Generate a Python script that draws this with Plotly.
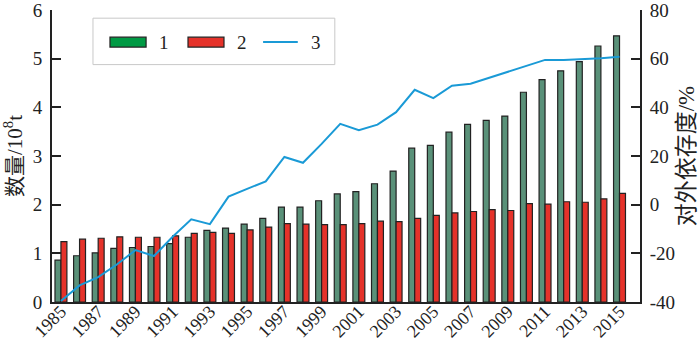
import plotly.graph_objects as go

years = list(range(1985, 2016))

# 1: first series (10^8 t)
series1 = [0.86, 0.95, 1.01, 1.10, 1.12, 1.14, 1.20, 1.33, 1.47, 1.52,
           1.60, 1.72, 1.95, 1.95, 2.08, 2.22, 2.27, 2.43, 2.69, 3.16,
           3.22, 3.49, 3.65, 3.73, 3.82, 4.31, 4.57, 4.75, 4.94, 5.26, 5.47]

# 2: second series (10^8 t)
series2 = [1.24, 1.29, 1.31, 1.34, 1.33, 1.33, 1.36, 1.41, 1.43, 1.41,
           1.48, 1.54, 1.61, 1.60, 1.59, 1.59, 1.61, 1.66, 1.65, 1.72,
           1.78, 1.83, 1.86, 1.90, 1.88, 2.02, 2.01, 2.06, 2.05, 2.12, 2.23]

# 3: external dependence (%)
series3 = [-39.6, -33.2, -29.8, -24.6, -18.7, -21.1, -13.2, -6.0, -8.0, 3.3,
           6.5, 9.6, 19.6, 17.2, 25.0, 33.2, 30.6, 32.9, 38.0, 47.2,
           43.8, 48.9, 49.7, 52.2, 54.8, 57.3, 59.5, 59.5, 59.7, 60.2, 60.8]

left_ticks = [0, 1, 2, 3, 4, 5, 6]
right_ticks = [-40, -20, 0, 20, 40, 60, 80]
right_tick_text = ["-40", "-20", "0", "20", "40", "60", "80"]

GREEN = "#5a9179"
RED = "#e5322a"
BLUE = "#1a9ad6"
EDGE = "#222222"
LEG_GREEN = "#009a44"
FONT = "Liberation Serif"
CJK = "Liberation Serif, Noto Sans CJK SC"

fig = go.Figure()
fig.add_trace(go.Bar(x=years, y=series1, name="1",
                     marker=dict(color=GREEN, line=dict(color=EDGE, width=1.2)), showlegend=False))
fig.add_trace(go.Bar(x=years, y=series2, name="2",
                     marker=dict(color=RED, line=dict(color=EDGE, width=1.2)), showlegend=False))
fig.add_trace(go.Scatter(x=years, y=series3, name="3", mode="lines", yaxis="y2",
                         line=dict(color=BLUE, width=2), showlegend=False))

axis_common = dict(showline=True, linecolor=EDGE, linewidth=2, showgrid=False, zeroline=False,
                   ticks="inside", ticklen=9, tickwidth=1.5, tickcolor=EDGE,
                   ticklabeloverflow="allow", automargin=False,
                   tickfont=dict(family=FONT, size=19, color="#222"))

fig.update_layout(
    width=700, height=341,
    margin=dict(l=52, r=60, t=10, b=39, autoexpand=False),
    paper_bgcolor="white", plot_bgcolor="white",
    barmode="group", bargap=0.36, bargroupgap=0,
    font=dict(family=FONT, color="#222"),
    xaxis=dict(range=[1984.52, 2016.1], tickmode="array", tickvals=years[::2],
               ticktext=[str(y) for y in years[::2]], tickangle=-45,
               showline=True, linecolor=EDGE, linewidth=2, showgrid=False, zeroline=False,
               ticks="", ticklabeloverflow="allow", automargin=False, ticklabelstandoff=-10,
               tickfont=dict(family=FONT, size=18, color="#222")),
    yaxis=dict(range=[0, 6], tickvals=left_ticks, ticklabelstandoff=4,
               title=dict(text="数量/10<sup>8</sup>t", font=dict(family=CJK, size=21, color="#222"), standoff=10),
               **axis_common),
    yaxis2=dict(range=[-40, 80], tickvals=right_ticks, ticktext=right_tick_text,
                overlaying="y", side="right", ticklabelstandoff=4,
                title=dict(text="对外依存度/%", font=dict(family=CJK, size=23, color="#222"), standoff=4),
                **axis_common),
)

# legend box drawn in paper coordinates
shapes = [
    dict(type="rect", xref="paper", yref="paper", x0=0.0697, x1=0.481, y0=0.813, y1=0.972,
         line=dict(color="#c8c8c8", width=1), fillcolor="white", layer="above"),
    dict(type="rect", xref="paper", yref="paper", x0=0.0986, x1=0.160, y0=0.873, y1=0.907,
         line=dict(color=EDGE, width=1.2), fillcolor=LEG_GREEN, layer="above"),
    dict(type="rect", xref="paper", yref="paper", x0=0.2313, x1=0.2925, y0=0.873, y1=0.907,
         line=dict(color=EDGE, width=1.2), fillcolor=RED, layer="above"),
    dict(type="line", xref="paper", yref="paper", x0=0.359, x1=0.418, y0=0.890, y1=0.890,
         line=dict(color=BLUE, width=2), layer="above"),
]
annotations = [
    dict(text=t, xref="paper", yref="paper", x=x, y=0.890, xanchor="left", yanchor="middle",
         showarrow=False, font=dict(family=FONT, size=19, color="#222"))
    for t, x in [("1", 0.178), ("2", 0.312), ("3", 0.437)]
]
fig.update_layout(shapes=shapes, annotations=annotations)

fig.write_html("out.html")
